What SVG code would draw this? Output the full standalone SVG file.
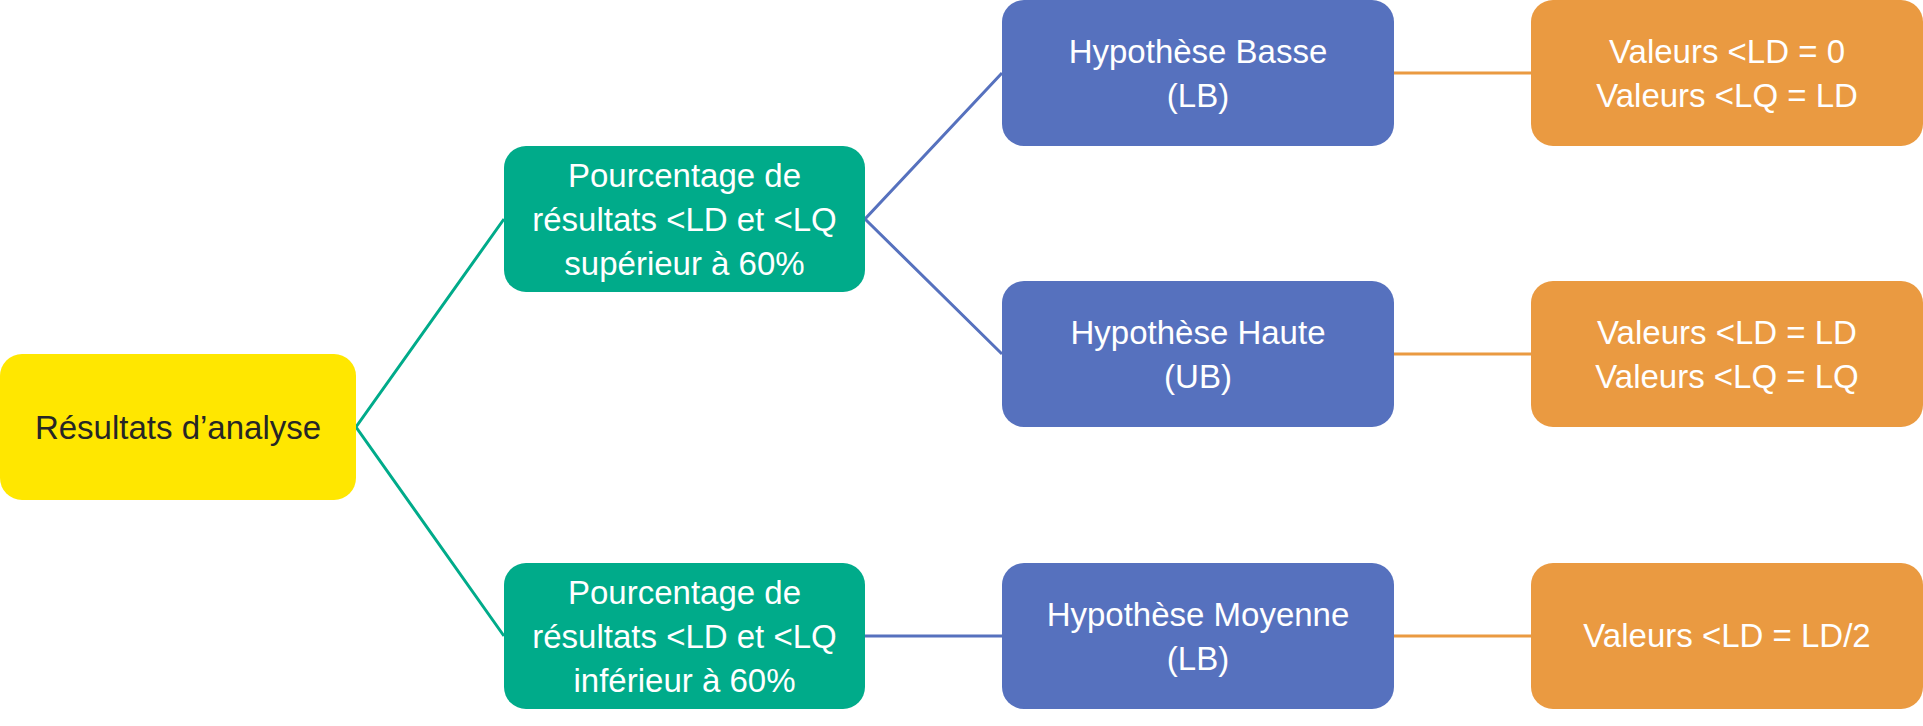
<svg xmlns="http://www.w3.org/2000/svg" width="1923" height="726" viewBox="0 0 1923 726">
<style>
text{font-family:"Liberation Sans",Arial,sans-serif;font-size:33px;text-anchor:middle;fill:#ffffff}
.dark{fill:#262626}
.y{fill:#FFE700}
.g{fill:#00AB8A}
.b{fill:#5671BE}
.o{fill:#EA9A41}
.cg{stroke:#00AB8A;stroke-width:3;fill:none}
.cb{stroke:#5671BE;stroke-width:3;fill:none}
.co{stroke:#EA9A41;stroke-width:3;fill:none}
</style>
<rect width="1923" height="726" fill="#ffffff"/>
<g id="connectors">
<polyline class="cg" points="504,219 356,427 504,636"/>
<polyline class="cb" points="1002,73 865,219 1002,354"/>
<line class="cb" x1="865" y1="636" x2="1002" y2="636"/>
<line class="co" x1="1394" y1="73" x2="1531" y2="73"/>
<line class="co" x1="1394" y1="354" x2="1531" y2="354"/>
<line class="co" x1="1394" y1="636" x2="1531" y2="636"/>
</g>
<g id="resultats">
<rect class="y" x="0" y="354" width="356" height="146" rx="22"/>
<text class="dark" x="178" y="439">Résultats d’analyse</text>
</g>
<g id="sup60">
<rect class="g" x="504" y="146" width="361" height="146" rx="22"/>
<text x="684.5" y="187">Pourcentage de</text>
<text x="684.5" y="231">résultats &lt;LD et &lt;LQ</text>
<text x="684.5" y="275">supérieur à 60%</text>
</g>
<g id="inf60">
<rect class="g" x="504" y="563" width="361" height="146" rx="22"/>
<text x="684.5" y="604">Pourcentage de</text>
<text x="684.5" y="648">résultats &lt;LD et &lt;LQ</text>
<text x="684.5" y="692">inférieur à 60%</text>
</g>
<g id="basse">
<rect class="b" x="1002" y="0" width="392" height="146" rx="22"/>
<text x="1198" y="63">Hypothèse Basse</text>
<text x="1198" y="107">(LB)</text>
</g>
<g id="haute">
<rect class="b" x="1002" y="281" width="392" height="146" rx="22"/>
<text x="1198" y="344">Hypothèse Haute</text>
<text x="1198" y="388">(UB)</text>
</g>
<g id="moyenne">
<rect class="b" x="1002" y="563" width="392" height="146" rx="22"/>
<text x="1198" y="626">Hypothèse Moyenne</text>
<text x="1198" y="670">(LB)</text>
</g>
<g id="val-basse">
<rect class="o" x="1531" y="0" width="392" height="146" rx="22"/>
<text x="1727" y="63">Valeurs &lt;LD = 0</text>
<text x="1727" y="107">Valeurs &lt;LQ = LD</text>
</g>
<g id="val-haute">
<rect class="o" x="1531" y="281" width="392" height="146" rx="22"/>
<text x="1727" y="344">Valeurs &lt;LD = LD</text>
<text x="1727" y="388">Valeurs &lt;LQ = LQ</text>
</g>
<g id="val-moyenne">
<rect class="o" x="1531" y="563" width="392" height="146" rx="22"/>
<text x="1727" y="647">Valeurs &lt;LD = LD/2</text>
</g>
</svg>
